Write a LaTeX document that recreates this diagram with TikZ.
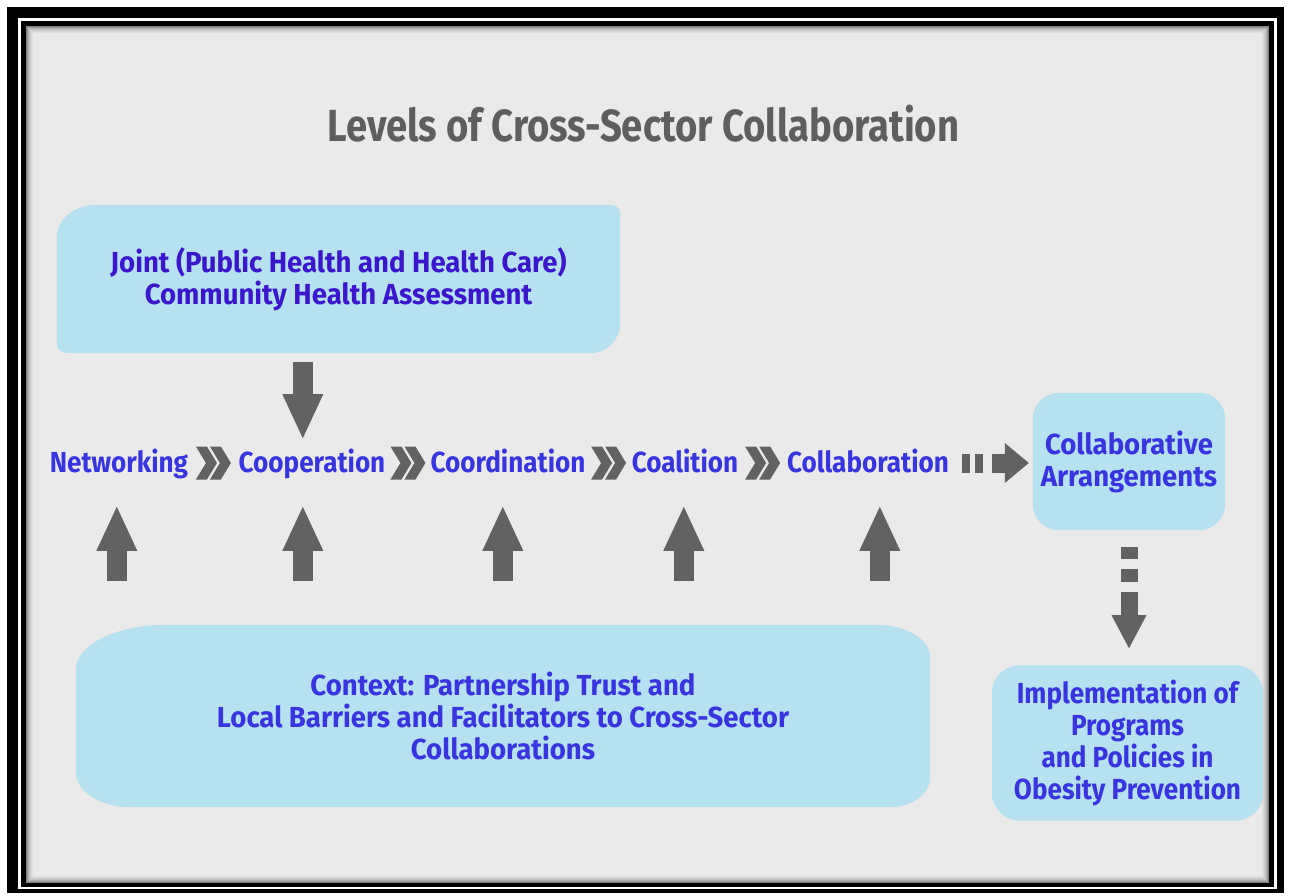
\documentclass[tikz,border=0pt]{standalone}
\usepackage{fontspec}
\setmainfont{Fira Sans}
\newfontfamily\wordfont{Fira Sans}[FakeStretch=0.90]
\newfontfamily\boxfont{Fira Sans}[FakeStretch=0.95]
\newfontfamily\headfont{Fira Sans}[FakeStretch=0.85]
\usetikzlibrary{arrows.meta,calc,backgrounds}

\definecolor{paper}{RGB}{234,234,234}
\definecolor{boxblue}{RGB}{182,225,240}
\definecolor{inkblue}{RGB}{56,52,224}
\definecolor{inkviolet}{RGB}{58,22,205}
\definecolor{arrowgray}{RGB}{98,98,98}
\definecolor{titlegray}{RGB}{94,94,94}

\pgfdeclarelayer{sheet}
\pgfsetlayers{sheet,background,main}

% soft box behind a node: #1 node, then x/y radii of the
% top-left, top-right, bottom-right and bottom-left corners
\newcommand\softbox[9]{%
  \fill[boxblue] let \p1=(#1.north west), \p2=(#1.south east) in
    (\x1+#2pt,\y1) -- (\x2-#4pt,\y1)
    arc[start angle=90,end angle=0,x radius=#4pt,y radius=#5pt]
    -- (\x2,\y2+#7pt)
    arc[start angle=0,end angle=-90,x radius=#6pt,y radius=#7pt]
    -- (\x1+#8pt,\y2)
    arc[start angle=270,end angle=180,x radius=#8pt,y radius=#9pt]
    -- (\x1,\y1-#3pt)
    arc[start angle=180,end angle=90,x radius=#2pt,y radius=#3pt]
    -- cycle;}

\tikzset{
  word/.style={font=\wordfont\bfseries\fontsize{29}{32}\selectfont,
    text=inkblue, inner sep=0pt, anchor=base},
  boxtext/.style={font=\boxfont\bfseries\fontsize{29}{32}\selectfont,
    text=inkblue, inner sep=0pt, align=center},
  blockarrow/.style={draw=arrowgray, line width=20pt,
    -{Triangle[width=41pt,length=44pt,line width=0pt]}},
  dashright/.style={draw=arrowgray, line width=19pt,
    dash pattern=on 8pt off 5pt on 8pt off 9pt on 200pt off 1pt,
    -{Triangle[width=40pt,length=24pt,line width=0pt]}},
  dashdown/.style={draw=arrowgray, line width=17pt,
    dash pattern=on 12pt off 10pt on 13pt off 10pt on 200pt off 1pt,
    -{Triangle[width=35pt,length=33pt,line width=0pt]}},
  chevrons/.pic={
    \fill[arrowgray] (-17.5,-16.5) -- (-6.5,-16.5) -- (3.5,0)
      -- (-6.5,16.5) -- (-17.5,16.5) -- (-7.5,0) -- cycle;
    \fill[arrowgray] (-3.5,-16.5) -- (7.5,-16.5) -- (17.5,0)
      -- (7.5,16.5) -- (-3.5,16.5) -- (6.5,0) -- cycle;
  }
}

\begin{document}
\begin{tikzpicture}[x=1pt,y=-1pt]
\useasboundingbox (0,0) rectangle (1291,896);

% frame and paper
\begin{pgfonlayer}{sheet}
\fill[white] (0,0) rectangle (1291,896);
\fill[black] (7,7) rectangle (1284,893);
\fill[white] (18,18) rectangle (1277,889);
\fill[black] (21,21) rectangle (1274,887);
\fill[paper] (26,26) rectangle (1269,883);
\foreach \i/\o in {0/0.45,1/0.34,2/0.25,3/0.17,4/0.11,5/0.07,6/0.04}
  \draw[black, opacity=\o, line width=1pt]
    (26.5+\i,26.5+\i) rectangle (1268.5-\i,882.5-\i);
\end{pgfonlayer}

% title
\node[font=\headfont\bfseries\fontsize{45}{50}\selectfont, text=titlegray,
  inner sep=0pt, anchor=base] (title) at (643.5,142)
  {Levels of Cross-Sector Collaboration};

% boxes
\node[boxtext, text=inkviolet, minimum width=563pt, minimum height=148pt]
  (joint) at (338.5,279)
  {Joint (Public Health and Health Care)\\Community Health Assessment};
\node[boxtext, minimum width=192pt, minimum height=137pt]
  (ca) at (1129,461.5) {Collaborative\\Arrangements};
\node[boxtext, font=\wordfont\bfseries\fontsize{29}{32}\selectfont,
  minimum width=271pt, minimum height=155pt]
  (impl) at (1127.5,743)
  {Implementation of\\Programs\\and Policies in\\Obesity Prevention};
\node[boxtext, minimum width=854pt, minimum height=182pt]
  (ctx) at (503,716)
  {Context: Partnership Trust and\\Local Barriers and Facilitators to Cross-Sector\\Collaborations};

\begin{scope}[on background layer]
  \softbox{joint}{40}{32}{10}{8}{30}{30}{13}{8}
  \softbox{ca}{26}{26}{26}{26}{26}{26}{26}{26}
  \softbox{impl}{28}{28}{28}{28}{28}{28}{28}{28}
  \softbox{ctx}{90}{45}{55}{32}{40}{30}{55}{35}
\end{scope}

% levels
\node[word] (net) at (119,472) {Networking};
\node[word] (coop) at (312,472) {Cooperation};
\node[word] (coord) at (508,472) {Coordination};
\node[word] (coal) at (685,472) {Coalition};
\node[word] (collab) at (868,472) {Collaboration};

\coordinate (c1) at ($(net.east)!0.5!(coop.west)$);
\coordinate (c2) at ($(coop.east)!0.5!(coord.west)$);
\coordinate (c3) at ($(coord.east)!0.5!(coal.west)$);
\coordinate (c4) at ($(coal.east)!0.5!(collab.west)$);
\foreach \c in {c1,c2,c3,c4}
  \pic at (\c |- 0,463) {chevrons};

% connectors
\draw[blockarrow] ($(joint.south west)+(246,9)$) -- ($(joint.south west)+(246,85)$);
\foreach \dx in {41,227,427,608,804}
  \draw[blockarrow] ($(ctx.north west)+(\dx,-44)$) -- ($(ctx.north west)+(\dx,-118)$);
\draw[dashright] ($(ca.west)+(-71,1.5)$) -- ($(ca.west)+(-4,1.5)$);
\draw[dashdown] ($(ca.south)+(0,17)$) -- ($(ca.south)+(0,118)$);
\end{tikzpicture}
\end{document}
